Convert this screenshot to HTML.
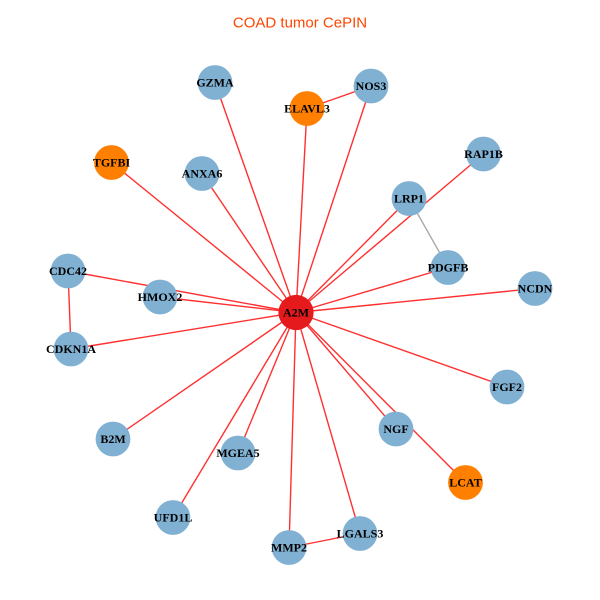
<!DOCTYPE html>
<html>
<head>
<meta charset="utf-8">
<style>
html,body{margin:0;padding:0;background:#fff;}
svg{display:block;}
.lbl{font-family:"Liberation Serif",serif;font-weight:bold;font-size:12px;fill:#000;text-anchor:middle;dominant-baseline:central;}
</style>
</head>
<body>
<svg width="600" height="600" viewBox="0 0 600 600" xmlns="http://www.w3.org/2000/svg">
<rect width="600" height="600" fill="#fff"/>
<text x="300" y="27.7" text-anchor="middle" font-family="Liberation Sans, sans-serif" font-size="15" fill="#FF4500">COAD tumor CePIN</text>
<g stroke="#FF3030" stroke-width="1.4" fill="none">
<line x1="296" y1="312.5" x2="215" y2="82.5"/>
<line x1="296" y1="312.5" x2="371" y2="86"/>
<line x1="296" y1="312.5" x2="307" y2="108.5"/>
<line x1="296" y1="312.5" x2="111.5" y2="162.5"/>
<line x1="296" y1="312.5" x2="202" y2="173.5"/>
<line x1="296" y1="312.5" x2="483.5" y2="154"/>
<line x1="296" y1="312.5" x2="409" y2="198.5"/>
<line x1="296" y1="312.5" x2="448" y2="267.5"/>
<line x1="296" y1="312.5" x2="535" y2="288.5"/>
<line x1="296" y1="312.5" x2="68" y2="271"/>
<line x1="296" y1="312.5" x2="160" y2="297"/>
<line x1="296" y1="312.5" x2="71" y2="349"/>
<line x1="296" y1="312.5" x2="507" y2="387"/>
<line x1="296" y1="312.5" x2="113" y2="439"/>
<line x1="296" y1="312.5" x2="238" y2="453"/>
<line x1="296" y1="312.5" x2="396" y2="429"/>
<line x1="296" y1="312.5" x2="465.5" y2="482.5"/>
<line x1="296" y1="312.5" x2="173" y2="517.5"/>
<line x1="296" y1="312.5" x2="289" y2="547.5"/>
<line x1="296" y1="312.5" x2="360" y2="533.5"/>
<line x1="371" y1="86" x2="307" y2="108.5"/>
<line x1="68" y1="271" x2="71" y2="349"/>
<line x1="289" y1="547.5" x2="360" y2="533.5"/>
</g>
<line x1="409" y1="198.5" x2="448" y2="267.5" stroke="#AAAAAA" stroke-width="1.4"/>
<g fill="#80B1D3">
<circle cx="215" cy="82.5" r="17.4"/>
<circle cx="371" cy="86" r="17.4"/>
<circle cx="202" cy="173.5" r="17.4"/>
<circle cx="483.5" cy="154" r="17.4"/>
<circle cx="409" cy="198.5" r="17.4"/>
<circle cx="448" cy="267.5" r="17.4"/>
<circle cx="535" cy="288.5" r="17.4"/>
<circle cx="68" cy="271" r="17.4"/>
<circle cx="160" cy="297" r="17.4"/>
<circle cx="71" cy="349" r="17.4"/>
<circle cx="507" cy="387" r="17.4"/>
<circle cx="113" cy="439" r="17.4"/>
<circle cx="238" cy="453" r="17.4"/>
<circle cx="396" cy="429" r="17.4"/>
<circle cx="173" cy="517.5" r="17.4"/>
<circle cx="289" cy="547.5" r="17.4"/>
<circle cx="360" cy="533.5" r="17.4"/>
</g>
<g fill="#FF7F00">
<circle cx="307" cy="108.5" r="17.4"/>
<circle cx="111.5" cy="162.5" r="17.4"/>
<circle cx="465.5" cy="482.5" r="17.4"/>
</g>
<circle cx="296" cy="312.5" r="17.6" fill="#E41A1C"/>
<g class="lbl">
<text class="lbl" x="296" y="312.5">A2M</text>
<text class="lbl" x="215" y="82.5">GZMA</text>
<text class="lbl" x="371" y="86">NOS3</text>
<text class="lbl" x="307" y="108.5">ELAVL3</text>
<text class="lbl" x="111.5" y="162.5">TGFBI</text>
<text class="lbl" x="202" y="173.5">ANXA6</text>
<text class="lbl" x="483.5" y="154">RAP1B</text>
<text class="lbl" x="409" y="198.5">LRP1</text>
<text class="lbl" x="448" y="267.5">PDGFB</text>
<text class="lbl" x="535" y="288.5">NCDN</text>
<text class="lbl" x="68" y="271">CDC42</text>
<text class="lbl" x="160" y="297">HMOX2</text>
<text class="lbl" x="71" y="349">CDKN1A</text>
<text class="lbl" x="507" y="387">FGF2</text>
<text class="lbl" x="113" y="439">B2M</text>
<text class="lbl" x="238" y="453">MGEA5</text>
<text class="lbl" x="396" y="429">NGF</text>
<text class="lbl" x="465.5" y="482.5">LCAT</text>
<text class="lbl" x="173" y="517.5">UFD1L</text>
<text class="lbl" x="289" y="547.5">MMP2</text>
<text class="lbl" x="360" y="533.5">LGALS3</text>
</g>
</svg>
</body>
</html>
